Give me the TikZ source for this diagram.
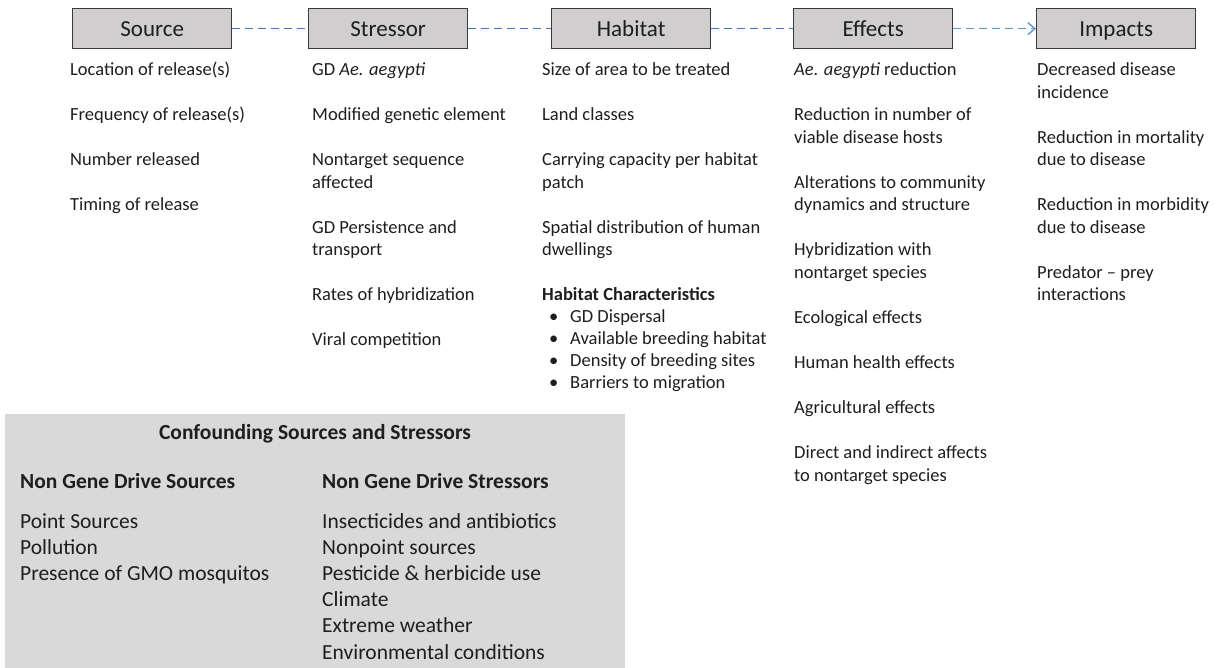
\documentclass[tikz,border=0pt]{standalone}
\usepackage{fontspec}
\setmainfont{Carlito}
\usetikzlibrary{arrows.meta}

\definecolor{boxfill}{HTML}{D0CECE}
\definecolor{boxline}{HTML}{3A3A3A}
\definecolor{linkblue}{HTML}{4472C4}
\definecolor{arrowblue}{HTML}{5B9BD5}
\definecolor{panelfill}{HTML}{D9D9D9}
\definecolor{ink}{HTML}{1E1E1E}

% left-aligned lines whose baseline is that of the first line
\newcommand{\linestack}[1]{\begin{tabular}[t]{@{}l@{}}#1\end{tabular}}

\begin{document}
\begin{tikzpicture}[x=1pt,y=-1pt,
  header/.style={draw=boxline, line width=1.3pt, fill=boxfill, text=ink,
    minimum width=159pt, minimum height=40pt, inner sep=0pt,
    text height=18pt, text depth=2pt,
    font=\fontsize{23}{27}\selectfont, anchor=north west},
  entry/.style={anchor=base west, inner sep=0pt, text=ink,
    font=\fontsize{18.5}{22.5}\selectfont},
  subhead/.style={entry, font=\fontsize{18.5}{22.5}\selectfont\bfseries},
  bulletmark/.style={entry},
  paneltext/.style={anchor=base west, inner sep=0pt, text=ink,
    font=\fontsize{21.5}{26.2}\selectfont},
  panelhead/.style={paneltext, font=\fontsize{21.5}{26.2}\selectfont\bfseries},
  link/.style={draw=linkblue, line width=1.4pt, dash pattern=on 8pt off 5pt},
  lastlink/.style={draw=arrowblue, line width=1.4pt, dash pattern=on 8pt off 5pt,
    -{Straight Barb[length=7pt,width=12pt,line width=1.4pt]}}
]
\useasboundingbox (0,0) rectangle (1219,668);

% ---- chain of header boxes ----
\node[header] (src) at (72,8)   {Source};
\node[header] (str) at (308,8)  {Stressor};
\node[header] (hab) at (551,8)  {Habitat};
\node[header] (eff) at (793,8)  {Effects};
\node[header] (imp) at (1036,8) {Impacts};

\draw[link] (src.east) -- (str.west);
\draw[link] (str.east) -- (hab.west);
\draw[link] (hab.east) -- (eff.west);
\draw[lastlink] (eff.east) -- (imp.west);

% ---- Source column ----
\node[entry] (s1) at (70,76)  {Location of release(s)};
\node[entry] (s2) at (70,121) {Frequency of release(s)};
\node[entry] (s3) at (70,166) {Number released};
\node[entry] (s4) at (70,211) {Timing of release};

% ---- Stressor column ----
\node[entry] (t1) at (312,76)    {GD \textit{Ae. aegypti}};
\node[entry] (t2) at (312,121)   {Modified genetic element};
\node[entry] (t3) at (312,166)   {\linestack{Nontarget sequence\\affected}};
\node[entry] (t4) at (312,233.5) {\linestack{GD Persistence and\\transport}};
\node[entry] (t5) at (312,301)   {Rates of hybridization};
\node[entry] (t6) at (312,346)   {Viral competition};

% ---- Habitat column ----
\node[entry] (h1) at (542,76)    {Size of area to be treated};
\node[entry] (h2) at (542,121)   {Land classes};
\node[entry] (h3) at (542,166)   {\linestack{Carrying capacity per habitat\\patch}};
\node[entry] (h4) at (542,233.5) {\linestack{Spatial distribution of human\\dwellings}};
\node[subhead] (h5) at (542,301) {Habitat Characteristics};
\node[bulletmark] (b1) at (549,323) {•};
\node[entry] (h6) at (570,323) {GD Dispersal};
\node[bulletmark] (b2) at (549,345) {•};
\node[entry] (h7) at (570,345) {Available breeding habitat};
\node[bulletmark] (b3) at (549,367) {•};
\node[entry] (h8) at (570,367) {Density of breeding sites};
\node[bulletmark] (b4) at (549,389) {•};
\node[entry] (h9) at (570,389) {Barriers to migration};

% ---- Effects column ----
\node[entry] (e1) at (794,76)    {\textit{Ae. aegypti} reduction};
\node[entry] (e2) at (794,121)   {\linestack{Reduction in number of\\viable disease hosts}};
\node[entry] (e3) at (794,188.5) {\linestack{Alterations to community\\dynamics and structure}};
\node[entry] (e4) at (794,256)   {\linestack{Hybridization with\\nontarget species}};
\node[entry] (e5) at (794,323.5) {Ecological effects};
\node[entry] (e6) at (794,368.5) {Human health effects};
\node[entry] (e7) at (794,413.5) {Agricultural effects};
\node[entry] (e8) at (794,458.5) {\linestack{Direct and indirect affects\\to nontarget species}};

% ---- Impacts column ----
\node[entry] (i1) at (1037,76)    {\linestack{Decreased disease\\incidence}};
\node[entry] (i2) at (1037,143.5) {\linestack{Reduction in mortality\\due to disease}};
\node[entry] (i3) at (1037,211)   {\linestack{Reduction in morbidity\\due to disease}};
\node[entry] (i4) at (1037,278.5) {\linestack{Predator – prey\\interactions}};

% ---- confounding factors panel ----
\node[fill=panelfill, minimum width=620pt, minimum height=254pt, inner sep=0pt,
      anchor=north west] (panel) at (5,414) {};
\node[panelhead, anchor=base] (ctitle) at (315,439) {Confounding Sources and Stressors};
\node[panelhead] (lhead) at (20,488)  {Non Gene Drive Sources};
\node[panelhead] (rhead) at (322,488) {Non Gene Drive Stressors};
\node[paneltext] (llist) at (20,528)
  {\linestack{Point Sources\\Pollution\\Presence of GMO mosquitos}};
\node[paneltext] (rlist) at (322,528)
  {\linestack{Insecticides and antibiotics\\Nonpoint sources\\Pesticide \& herbicide use\\Climate\\Extreme weather\\Environmental conditions}};
\end{tikzpicture}
\end{document}
